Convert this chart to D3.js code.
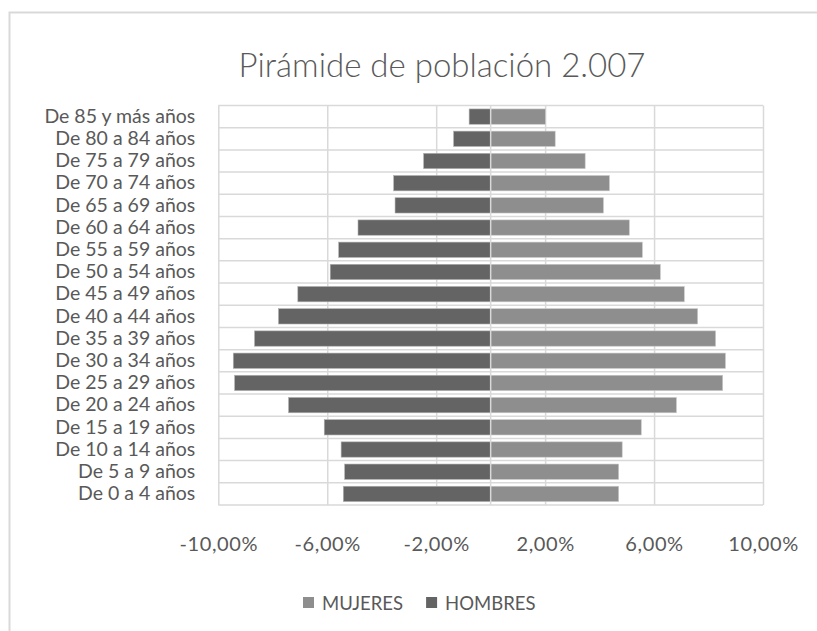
<!DOCTYPE html>
<html>
<head>
<meta charset="utf-8">
<script src="https://cdn.jsdelivr.net/npm/d3@7"></script>
<style>
  body { margin: 0; background: #fff; }
  text { font-family: Lato, "Open Sans", sans-serif; fill: #595959; }
</style>
</head>
<body>
<script>
var width = 817,
    height = 631;

// age groups, top to bottom
var categories = ["De 85 y más años", "De 80 a 84 años", "De 75 a 79 años", "De 70 a 74 años",
  "De 65 a 69 años", "De 60 a 64 años", "De 55 a 59 años", "De 50 a 54 años",
  "De 45 a 49 años", "De 40 a 44 años", "De 35 a 39 años", "De 30 a 34 años",
  "De 25 a 29 años", "De 20 a 24 años", "De 15 a 19 años", "De 10 a 14 años",
  "De 5 a 9 años", "De 0 a 4 años"];

var mujeres = [2.01, 2.37, 3.47, 4.36, 4.14, 5.09, 5.57, 6.23, 7.11,
  7.60, 8.26, 8.62, 8.52, 6.82, 5.53, 4.83, 4.70, 4.70];

var hombres = [-0.79, -1.36, -2.46, -3.56, -3.51, -4.87, -5.58, -5.89, -7.08,
  -7.79, -8.67, -9.45, -9.40, -7.42, -6.11, -5.49, -5.36, -5.41];

var tickValues = [-10, -6, -2, 2, 6, 10];
var seriesNames = ["MUJERES", "HOMBRES"];
var colors = {MUJERES: "#8e8e8e", HOMBRES: "#646464"};

var margin = {top: 105.5, left: 218.3, right: 54, bottom: 126};
var plotW = width - margin.left - margin.right,
    plotH = height - margin.top - margin.bottom;

var locale = d3.formatLocale({decimal: ",", thousands: ".", grouping: [3], currency: ["", "€"], minus: "-"});
var fmt = locale.format(".2f");

var svg = d3.select("body")
            .append("svg")
            .attr("width", width)
            .attr("height", height);

// chart area border
svg.append("rect")
   .attr("x", 9.5)
   .attr("y", 12.5)
   .attr("width", 900)
   .attr("height", 700)
   .attr("fill", "#fff")
   .attr("stroke", "#d9d9d9")
   .attr("stroke-width", 2);

svg.append("text")
   .attr("x", 442)
   .attr("y", 77)
   .attr("text-anchor", "middle")
   .attr("font-size", "33px")
   .attr("font-weight", 300)
   .text("Pirámide de población 2.007");

var g = svg.append("g")
           .attr("transform", "translate(" + margin.left + "," + margin.top + ")");

var x = d3.scaleLinear().domain([-10, 10]).range([0, plotW]);
var y = d3.scaleBand().domain(categories).range([0, plotH])
          .paddingInner(0.31).paddingOuter(0.155);

// vertical gridlines + labels
var xAxis = g.append("g")
   .attr("transform", "translate(0," + plotH + ")")
   .call(d3.axisBottom(x)
          .tickValues(tickValues)
          .tickSize(-plotH)
          .tickPadding(32)
          .tickFormat(function(d) { return fmt(d) + "%"; }));
xAxis.select(".domain").remove();
xAxis.selectAll("line").attr("stroke", "#d9d9d9").attr("stroke-width", 1.5);
xAxis.selectAll("text").attr("font-size", "20px").attr("fill", "#595959")
     .attr("letter-spacing", "0.6px")
     .attr("font-family", "Lato, sans-serif");

// horizontal separators between categories
var bounds = d3.range(categories.length + 1).map(function(i) { return i * y.step(); });
g.selectAll(".hgrid")
 .data(bounds)
 .enter().append("line")
 .attr("class", "hgrid")
 .attr("x1", 0)
 .attr("x2", plotW)
 .attr("y1", function(d) { return d; })
 .attr("y2", function(d) { return d; })
 .attr("stroke", "#d9d9d9")
 .attr("stroke-width", 1.5);

g.selectAll(".bar-m")
 .data(mujeres)
 .enter().append("rect")
 .attr("class", "bar-m")
 .attr("x", x(0))
 .attr("y", function(d, i) { return y(categories[i]); })
 .attr("width", function(d) { return x(d) - x(0); })
 .attr("height", y.bandwidth())
 .attr("fill", colors.MUJERES)
 .attr("stroke", "#c8c8c8")
 .attr("stroke-width", 0.6);

g.selectAll(".bar-h")
 .data(hombres)
 .enter().append("rect")
 .attr("class", "bar-h")
 .attr("x", function(d) { return x(d); })
 .attr("y", function(d, i) { return y(categories[i]); })
 .attr("width", function(d) { return x(0) - x(d); })
 .attr("height", y.bandwidth())
 .attr("fill", colors.HOMBRES)
 .attr("stroke", "#b0b0b0")
 .attr("stroke-width", 0.6);

// category axis at zero
g.append("line")
 .attr("x1", x(0)).attr("x2", x(0))
 .attr("y1", 0).attr("y2", plotH)
 .attr("stroke", "#d9d9d9")
 .attr("stroke-width", 1.5);

// category labels
var yAxis = g.append("g")
   .call(d3.axisLeft(y).tickSize(0).tickPadding(23));
yAxis.select(".domain").remove();
yAxis.selectAll("text").attr("font-size", "19.5px").attr("fill", "#595959")
     .attr("font-family", "Lato, sans-serif");

// legend
var legend = svg.append("g").attr("transform", "translate(303,603)");
var lx = 0;
seriesNames.forEach(function(name) {
  legend.append("rect")
        .attr("x", lx).attr("y", -6)
        .attr("width", 11).attr("height", 11)
        .attr("fill", colors[name]);
  var t = legend.append("text")
        .attr("x", lx + 19).attr("y", 7)
        .attr("font-size", "18.5px")
        .text(name);
  lx += 19 + t.node().getComputedTextLength() + 23;
});
</script>
</body>
</html>
